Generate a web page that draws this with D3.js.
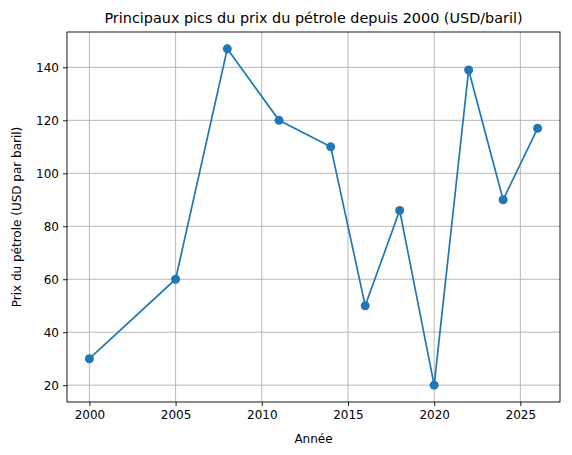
<!DOCTYPE html><html><head><meta charset="utf-8"><script src="https://cdn.jsdelivr.net/npm/d3@7"></script>
<style>body{margin:0;background:#fff}svg{font-family:"DejaVu Sans",sans-serif}</style></head><body>
<svg id="c" width="572" height="455"></svg>
<script>
const years=[2000,2005,2008,2011,2014,2016,2018,2020,2022,2024,2026];
const prices=[30,60,147,120,110,50,86,20,139,90,117];
const xTicks=[2000,2005,2010,2015,2020,2025];
const yTicks=[20,40,60,80,100,120,140];
const L=67,R=560,T=32,B=402;
const svg=d3.select("#c");
const x=d3.scaleLinear().domain([1998.7,2027.3]).range([L,R]);
const y=d3.scaleLinear().domain([13.65,153.35]).range([B,T]);
const g=svg.append("g");
g.selectAll(".gx").data(xTicks).join("line").attr("x1",d=>x(d)).attr("x2",d=>x(d)).attr("y1",T).attr("y2",B).attr("stroke","#b0b0b0").attr("stroke-width",0.9);
g.selectAll(".gy").data(yTicks).join("line").attr("y1",d=>y(d)).attr("y2",d=>y(d)).attr("x1",L).attr("x2",R).attr("stroke","#b0b0b0").attr("stroke-width",0.9);
const ax=svg.append("g").attr("transform",`translate(0,${B})`).call(d3.axisBottom(x).tickValues(xTicks).tickFormat(d3.format("d")).tickSize(4).tickPadding(4));
const ay=svg.append("g").attr("transform",`translate(${L},0)`).call(d3.axisLeft(y).tickValues(yTicks).tickSize(4).tickPadding(4));
[ax,ay].forEach(a=>{a.select(".domain").remove();a.selectAll("text").attr("font-size",12).attr("fill","#000").attr("font-family","DejaVu Sans");a.selectAll("line").attr("stroke","#000").attr("stroke-width",0.9);});
svg.append("rect").attr("x",L).attr("y",T).attr("width",R-L).attr("height",B-T).attr("fill","none").attr("stroke","#000").attr("stroke-width",0.9);
const pts=years.map((d,i)=>[d,prices[i]]);
svg.append("path").attr("d",d3.line().x(d=>x(d[0])).y(d=>y(d[1]))(pts)).attr("fill","none").attr("stroke","#1f77b4").attr("stroke-width",1.7);
svg.selectAll(".p").data(pts).join("circle").attr("cx",d=>x(d[0])).attr("cy",d=>y(d[1])).attr("r",4.5).attr("fill","#1f77b4");
svg.append("text").attr("x",(L+R)/2).attr("y",T-9).attr("text-anchor","middle").attr("font-size",14.4).text("Principaux pics du prix du pétrole depuis 2000 (USD/baril)");
svg.append("text").attr("x",(L+R)/2).attr("y",443).attr("text-anchor","middle").attr("font-size",12).text("Année");
svg.append("text").attr("transform",`translate(21,${(T+B)/2}) rotate(-90)`).attr("text-anchor","middle").attr("font-size",12).text("Prix du pétrole (USD par baril)");
</script></body></html>
